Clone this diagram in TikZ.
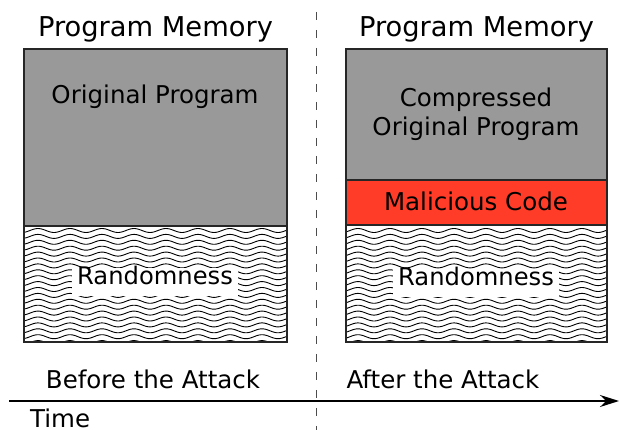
\documentclass[tikz,border=0pt]{standalone}
\usepackage{fontspec}
\setmainfont{DejaVu Sans}
\usetikzlibrary{arrows.meta}
\definecolor{memgray}{RGB}{153,153,153}
\definecolor{malred}{RGB}{255,60,40}
\begin{document}
\begin{tikzpicture}[x=1pt,y=-1pt,
  lbl/.style={font=\fontsize{24.5}{28}\selectfont, inner sep=0pt, anchor=base},
  title/.style={font=\fontsize{27.3}{32}\selectfont, inner sep=0pt, anchor=base},
  region/.style={draw=black!85, line width=1.3pt},
  wave/.style={line width=0.9pt, black},
  whitebox/.style={fill=white, font=\fontsize{24.2}{28}\selectfont, inner xsep=5pt, inner ysep=9pt, text height=0.76em, text depth=0.2em},
  divider/.style={draw=black!70, line width=0.9pt, dash pattern=on 8pt off 10pt},
  timeline/.style={line width=1.4pt, -{Stealth[length=19pt,width=12pt]}}
]
\useasboundingbox (0,0) rectangle (619,430);

% left memory
\fill[memgray] (24,49) rectangle (287,226);
\begin{scope}
  \clip (24,226) rectangle (287,342);
  \foreach \k in {0,...,19}
    \draw[wave] plot[domain=20:290, samples=140] (\x, {230.5+5.9*\k - 2*cos((\x-38)*11.25)});
\end{scope}
\draw[region] (24,226) -- (287,226);
\draw[region] (24,49) rectangle (287,342);

% right memory
\fill[memgray] (346,49) rectangle (607,180);
\fill[malred] (346,180) rectangle (607,225);
\begin{scope}
  \clip (346,225) rectangle (607,342);
  \foreach \k in {0,...,19}
    \draw[wave] plot[domain=340:610, samples=140] (\x, {230.5+5.9*\k - 2*cos((\x-38)*11.25)});
\end{scope}
\draw[region] (346,180) -- (607,180);
\draw[region] (346,225) -- (607,225);
\draw[region] (346,49) rectangle (607,342);

% texts
\node[title] (pm1) at (155.5,36.5) {Program Memory};
\node[title] (pm2) at (476.5,36.5) {Program Memory};
\node[lbl] (orig) at (155,104) {Original Program};
\node[lbl] (comp1) at (476,107) {Compressed};
\node[lbl] (comp2) at (476,136) {Original Program};
\node[lbl] (mal) at (476,211) {Malicious Code};
\node[whitebox] (rand1) at (155,282) {Randomness};
\node[whitebox] (rand2) at (476,283) {Randomness};
\node[lbl] (before) at (153,389) {Before the Attack};
\node[lbl] (after) at (443,389) {After the Attack};
\node[lbl, anchor=base west] (time) at (30,428) {Time};

% divider and timeline
\coordinate (dtop) at (316,12);
\coordinate (dbot) at (316,430);
\draw[divider] (dtop) -- (dbot);
\coordinate (tstart) at (9,401);
\coordinate (tend) at (619,401);
\draw[timeline] (tstart) -- (tend);
\end{tikzpicture}
\end{document}
